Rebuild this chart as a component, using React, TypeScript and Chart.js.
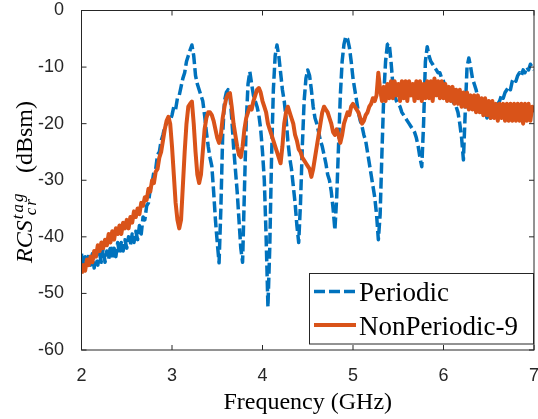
import { useEffect, useRef } from 'react';
import { Chart, registerables } from 'chart.js';

Chart.register(...registerables);

// Frequency grid (GHz): samples every 0.02 GHz from 2 to 7
const FREQ_START_GHZ = 2;
const FREQ_STEP_GHZ = 0.02;

const xTickValues = [2, 3, 4, 5, 6, 7];
const yTickValues = [0, -10, -20, -30, -40, -50, -60];
const seriesLabels = ['Periodic', 'NonPeriodic-9'];

// RCS (dBsm) – Periodic tag
const periodicDbsm = [
  -43, -46, -43.5, -45.5, -43, -45, -43, -45.5, -42.5, -45,
  -43, -44.5, -42, -44.5, -42.5, -44, -41.5, -44, -42, -43.5,
  -41, -43, -41, -42.5, -40.5, -42, -40, -41.5, -39.5, -41,
  -39, -40.5, -38, -39.5, -36.5, -37, -34.5, -34, -31.5, -30.5,
  -28.5, -28, -25.5, -25, -23, -22, -20.5, -20, -19, -19.5,
  -18.5, -17, -17.5, -15.5, -15, -13.5, -12, -11, -9, -8,
  -7, -6.1, -8, -11.5, -13, -14, -15, -16, -18.5, -21.5,
  -24, -26, -27.5, -32, -37, -41, -44.6, -35, -22, -16,
  -14.5, -14, -15, -19, -24, -28, -32, -37, -42, -44.5,
  -32, -20, -13, -10.8, -13, -15, -16, -17, -18.5, -21,
  -25, -30, -40, -52.4, -42, -26, -14, -8, -6.1, -8,
  -11, -14, -16, -19, -23, -26, -28, -31, -34, -38,
  -41, -34, -24, -16, -12, -10.5, -11.5, -14, -17, -19,
  -20, -21.5, -23, -24, -25.5, -27, -29, -30, -32, -35,
  -38.8, -33, -24, -15, -9, -6, -4.6, -5, -6.5, -9,
  -12, -14, -16, -18, -19.5, -20.5, -22, -23, -25, -27,
  -29, -31, -33, -36, -40.5, -36, -25, -15, -9, -6,
  -5.8, -9, -13, -15, -16, -16.5, -17, -18, -18.5, -19,
  -19.5, -20, -20.5, -21, -21.5, -22.5, -24, -26, -27.6, -20,
  -9, -6.4, -8, -9, -9.5, -10, -10.5, -11, -11, -12,
  -12.5, -13.5, -14, -14.5, -15, -16, -16.5, -17, -18, -20,
  -22.5, -26.4, -18, -10, -8.4, -10, -12, -13, -14, -15.5,
  -17, -16.5, -18, -17.5, -19, -18, -19, -18, -17.5, -17,
  -16.5, -16, -15, -15.5, -14.5, -14, -13.5, -14, -12.5, -12,
  -12.5, -11.5, -11, -11.5, -10.5, -11, -10, -10.5, -9.5, -10,
  -10.5,
];

// RCS (dBsm) – NonPeriodic-9 tag
const nonPeriodic9Dbsm = [
  -46.5, -45, -46, -44, -45, -43.5, -44.5, -42.5, -43.5, -41.5,
  -42.5, -41, -42, -40.5, -41.5, -39.5, -41, -39, -40.5, -38.5,
  -39.5, -38, -39.5, -37.5, -38.5, -37, -38.5, -36.5, -37.5, -35.5,
  -36.5, -35, -36, -34, -34.5, -33, -33.5, -31.5, -32, -30,
  -30.5, -28.5, -28, -26, -25, -23, -21, -19.5, -18.8, -20,
  -24, -29, -34, -37, -38.5, -37, -31, -25, -20, -17,
  -16.5, -16.1, -20, -25, -29, -30.5, -29, -25, -21, -19,
  -18, -18, -18.5, -19.5, -21, -22.5, -23.4, -22, -19, -17,
  -15.5, -14.8, -14.6, -17, -20, -22, -24, -25.5, -25.9, -24,
  -21, -19, -18, -17, -17.5, -16, -15, -14, -13.7, -14.5,
  -16, -17, -18, -20, -21, -22, -23, -24, -25, -26,
  -27, -24, -20, -18, -17, -18, -19, -20, -22, -23,
  -24.5, -25, -26, -26.5, -27, -27.5, -28, -29.4, -28, -26,
  -24, -22, -20, -18, -17, -17.5, -18, -19, -20, -21.5,
  -22, -21, -22, -23.4, -22, -20, -19, -18, -18.5, -17,
  -16.5, -17, -17.5, -18, -19, -20, -19.5, -18.5, -18, -17,
  -16.5, -15.5, -16, -15, -11, -14, -16, -13.5, -16, -13,
  -15.5, -12.5, -15.5, -12.5, -15, -13, -16, -12.5, -15.5, -12.5,
  -16, -12.5, -15, -13, -16, -12.5, -15.5, -12.5, -16, -13,
  -15.5, -12.5, -15.5, -12.5, -16, -12, -15, -12.5, -15.5, -12.5,
  -15.5, -13, -16, -13.5, -16, -13.5, -16.5, -14, -16.5, -14,
  -17, -14.5, -17, -14.5, -17.5, -15, -17.5, -15, -18, -15,
  -18, -15.5, -18.5, -15.5, -18.5, -16, -19, -16, -19, -16.5,
  -19.5, -16.5, -19, -16.5, -19.5, -16.5, -19.5, -16.5, -19.5, -16.5,
  -19.5, -16.5, -19.5, -16.5, -20, -16.5, -19.5, -16.5, -19.5, -17,
  -18,
];

const BLUE = '#0072BD';
const ORANGE = '#D95319';
const AXIS_COLOR = '#262626';
const SERIF = '"Liberation Serif", "Times New Roman", Times, serif';
const SANS = '"Liberation Sans", Arial, Helvetica, sans-serif';

const toPoints = (vals: number[]) =>
  vals.map((v, i) => ({ x: FREQ_START_GHZ + i * FREQ_STEP_GHZ, y: v }));

const decorPlugin = {
  id: 'decor',
  afterDatasetsDraw(chart: any) {
    const { ctx, chartArea: a, scales } = chart;
    ctx.save();

    // Axes box
    ctx.strokeStyle = AXIS_COLOR;
    ctx.lineWidth = 1;
    ctx.setLineDash([]);
    ctx.strokeRect(a.left, a.top, a.right - a.left, a.bottom - a.top);

    // Inward tick marks
    const tl = 5;
    ctx.beginPath();
    xTickValues.forEach((v) => {
      const x = scales.x.getPixelForValue(v);
      ctx.moveTo(x, a.bottom);
      ctx.lineTo(x, a.bottom - tl);
      ctx.moveTo(x, a.top);
      ctx.lineTo(x, a.top + tl);
    });
    yTickValues.forEach((v) => {
      const y = scales.y.getPixelForValue(v);
      ctx.moveTo(a.left, y);
      ctx.lineTo(a.left + tl, y);
      ctx.moveTo(a.right, y);
      ctx.lineTo(a.right - tl, y);
    });
    ctx.stroke();

    // Legend
    const lx = 309.5, ly = 273.5, lw = 224, lh = 70.5;
    ctx.fillStyle = '#ffffff';
    ctx.fillRect(lx, ly, lw, lh);
    ctx.strokeStyle = AXIS_COLOR;
    ctx.lineWidth = 1;
    ctx.strokeRect(lx, ly, lw, lh);
    const rows = [
      { y: 291.5, color: BLUE, dash: [11, 4], width: 3.5 },
      { y: 325, color: ORANGE, dash: [], width: 4 },
    ];
    rows.forEach((r, i) => {
      ctx.beginPath();
      ctx.strokeStyle = r.color;
      ctx.lineWidth = r.width;
      ctx.setLineDash(r.dash);
      ctx.moveTo(314, r.y);
      ctx.lineTo(356, r.y);
      ctx.stroke();
      ctx.setLineDash([]);
      ctx.fillStyle = '#000';
      ctx.font = `27px ${SERIF}`;
      ctx.textAlign = 'left';
      ctx.textBaseline = 'alphabetic';
      ctx.fillText(seriesLabels[i], 359, r.y + 9.5);
    });

    // X-axis title
    ctx.fillStyle = '#000';
    ctx.font = `24px ${SERIF}`;
    ctx.textAlign = 'center';
    ctx.textBaseline = 'alphabetic';
    ctx.fillText('Frequency (GHz)', (a.left + a.right) / 2, 409);

    // Y-axis title: RCS_{cr}^{tag} (dBsm)
    ctx.save();
    ctx.translate(31.5, 263);
    ctx.rotate(-Math.PI / 2);
    ctx.textAlign = 'left';
    ctx.textBaseline = 'alphabetic';
    ctx.font = `italic 24px ${SERIF}`;
    ctx.fillText('RCS', 0, 0);
    const wRcs = ctx.measureText('RCS').width;
    ctx.font = `italic 17px ${SERIF}`;
    (ctx as any).letterSpacing = '2px';
    ctx.fillText('tag', wRcs + 1, -9);
    ctx.fillText('cr', wRcs + 5, 4);
    (ctx as any).letterSpacing = '0px';
    ctx.font = `24px ${SERIF}`;
    ctx.fillText('(dBsm)', 90, 0);
    ctx.restore();

    ctx.restore();
  },
};

export default function App() {
  const canvasRef = useRef<HTMLCanvasElement | null>(null);

  useEffect(() => {
    if (!canvasRef.current) return;
    const tickFont = { family: SANS, size: 18 };
    const chart = new Chart(canvasRef.current, {
      type: 'line',
      data: {
        datasets: [
          {
            label: seriesLabels[0],
            data: toPoints(periodicDbsm),
            borderColor: BLUE,
            backgroundColor: BLUE,
            borderWidth: 3.5,
            borderDash: [11, 4],
            borderJoinStyle: 'round',
            pointRadius: 0,
            fill: false,
            tension: 0,
            order: 2,
          },
          {
            label: seriesLabels[1],
            data: toPoints(nonPeriodic9Dbsm),
            borderColor: ORANGE,
            backgroundColor: ORANGE,
            borderWidth: 4,
            borderJoinStyle: 'round',
            pointRadius: 0,
            fill: false,
            tension: 0,
            order: 1,
          },
        ],
      },
      options: {
        animation: false,
        responsive: true,
        maintainAspectRatio: false,
        layout: { padding: { top: 10.5, right: 4, left: 0, bottom: 0 } },
        plugins: {
          legend: { display: false },
          tooltip: { enabled: false },
          title: { display: false },
        },
        scales: {
          x: {
            type: 'linear',
            min: 2,
            max: 7,
            grid: { display: false },
            border: { display: false },
            afterBuildTicks: (s: any) => {
              s.ticks = xTickValues.map((v) => ({ value: v }));
            },
            afterFit: (s: any) => {
              s.height = 69;
              s.paddingLeft = 0;
              s.paddingRight = 0;
            },
            ticks: {
              font: tickFont,
              color: AXIS_COLOR,
              padding: 7,
              maxRotation: 0,
              autoSkip: false,
              callback: (v: any) => String(v),
            },
          },
          y: {
            type: 'linear',
            min: -60,
            max: 0,
            grid: { display: false },
            border: { display: false },
            afterBuildTicks: (s: any) => {
              s.ticks = yTickValues.map((v) => ({ value: v }));
            },
            afterFit: (s: any) => {
              s.width = 81.5;
              s.paddingTop = 0;
              s.paddingBottom = 0;
            },
            ticks: {
              font: tickFont,
              color: AXIS_COLOR,
              padding: 9.5,
              autoSkip: false,
              callback: (v: any) => String(v),
            },
          },
        },
      },
      plugins: [decorPlugin],
    } as any);
    return () => chart.destroy();
  }, []);

  return (
    <div style={{ position: 'fixed', left: 0, top: 0, width: 538, height: 419, background: '#fff' }}>
      <canvas ref={canvasRef} />
    </div>
  );
}
